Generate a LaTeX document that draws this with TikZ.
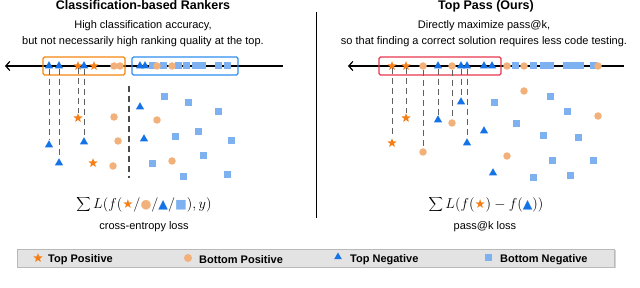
\documentclass[tikz,border=0pt]{standalone}
\usepackage{fontspec}
\usetikzlibrary{shapes.geometric,arrows.meta,shadows}
\newfontfamily\helv{Liberation Sans}
\newfontfamily\symfont{DejaVu Sans}
\definecolor{StarOrange}{HTML}{F57F17}
\definecolor{DotPeach}{HTML}{F2B07A}
\definecolor{TriBlue}{HTML}{1473E6}
\definecolor{SquareBlue}{HTML}{7DB1EF}
\definecolor{BoxOrange}{HTML}{F5870F}
\definecolor{BoxBlue}{HTML}{2E8DF0}
\definecolor{BoxRed}{HTML}{E8374F}
\newcommand{\StarMark}{\mbox{\fontsize{12.5}{12.5}\symfont\textcolor{StarOrange}{★}}}
\newcommand{\DotMark}{\mbox{\fontsize{12.5}{12.5}\symfont\textcolor{DotPeach}{●}}}
\newcommand{\TriMark}{\mbox{\fontsize{12.5}{12.5}\symfont\textcolor{TriBlue}{▲}}}
\newcommand{\SquareMark}{\mbox{\fontsize{12.5}{12.5}\symfont\textcolor{SquareBlue}{■}}}
\tikzset{
  TopPos/.style={star, star points=5, star point ratio=2.3, fill=StarOrange, inner sep=0pt, minimum size=9.5pt},
  BotPos/.style={circle, fill=DotPeach, inner sep=0pt, minimum size=7.5pt},
  TopNeg/.style={regular polygon, regular polygon sides=3, fill=TriBlue, inner sep=0pt, minimum size=9.5pt},
  BotNeg/.style={rectangle, fill=SquareBlue, inner sep=0pt, minimum size=7pt},
  DropLine/.style={gray!75!black, dash pattern=on 6pt off 4pt, line width=0.9pt},
  CutLine/.style={gray!60!black, dash pattern=on 6pt off 4pt, line width=1.5pt},
  RankBox/.style={rounded corners=1.5pt, line width=1.4pt},
  TitleText/.style={font=\helv\bfseries\fontsize{12.5}{14}\selectfont, anchor=base},
  NoteText/.style={font=\helv\fontsize{11}{13}\selectfont, anchor=base},
  LossText/.style={font=\fontsize{14}{16}\selectfont, inner sep=0pt},
  KeyText/.style={font=\helv\bfseries\fontsize{11}{13}\selectfont, anchor=west, inner sep=0pt},
}
\begin{document}
\begin{tikzpicture}[x=1pt, y=-1pt]
  \useasboundingbox (0,0) rectangle (640,288);

  % headings
  \node[TitleText] (LeftTitle) at (143,10) {Classification-based Rankers};
  \node[NoteText] (LeftNoteA) at (143,29) {High classification accuracy,};
  \node[NoteText] (LeftNoteB) at (143,45) {but not necessarily high ranking quality at the top.};
  \node[TitleText] (RightTitle) at (486,10) {Top Pass (Ours)};
  \node[NoteText] (RightNoteA) at (484,29) {Directly maximize pass@k,};
  \node[NoteText] (RightNoteB) at (484,45) {so that finding a correct solution requires less code testing.};

  \coordinate (DividerTop) at (316,12);
  \coordinate (DividerBottom) at (316,218);
  \draw[line width=0.8pt] (DividerTop)--(DividerBottom);

  % left ranking axis
  \coordinate (LeftAxisEnd) at (283,66);
  \coordinate (LeftAxisTip) at (5,66);
  \draw[line width=1.2pt, -{Straight Barb[length=4pt, width=9pt]}] (LeftAxisEnd)--(LeftAxisTip);
  \draw[RankBox, BoxOrange] (43,57) rectangle (125,75);
  \draw[RankBox, BoxBlue] (132,57) rectangle (238,75);

  \foreach \x [count=\i] in {152,163,178,186,195,202,218,227}
    \node[BotNeg] (LeftAxisSquare\i) at (\x,66) {};
  \foreach \x [count=\i] in {114,120,157,172}
    \node[BotPos] (LeftAxisDot\i) at (\x,66) {};
  \node[TopNeg] (LeftAxisTriA) at (49,66) {};
  \node[TopNeg] (LeftAxisTriB) at (59,66) {};
  \node[TopPos] (LeftAxisStarA) at (78,66) {};
  \node[TopNeg] (LeftAxisTriC) at (84,66) {};
  \node[TopPos] (LeftAxisStarB) at (94,66) {};
  \node[TopNeg] (LeftAxisTriD) at (140,66) {};
  \node[TopNeg] (LeftAxisTriE) at (145,66) {};

  % left scores
  \node[TopNeg] (LeftTriA) at (49,145) {};
  \node[TopNeg] (LeftTriB) at (59,163) {};
  \node[TopPos] (LeftStarA) at (78,118) {};
  \node[TopNeg] (LeftTriC) at (84,142) {};
  \node[TopPos] (LeftStarB) at (93,163) {};
  \node[TopNeg] (LeftTriD) at (140,107) {};
  \node[TopNeg] (LeftTriE) at (144,139) {};
  \foreach \x/\y [count=\i] in {114/117,118/141,113/166,157/120,172/161}
    \node[BotPos] (LeftDot\i) at (\x,\y) {};
  \foreach \x/\y [count=\i] in {164/97,188/103,218/112,175/137,198/132,231/141,152/164,203/156,183/177,227/175}
    \node[BotNeg] (LeftSquare\i) at (\x,\y) {};

  \draw[DropLine] (LeftAxisTriA)--(LeftTriA);
  \draw[DropLine] (LeftAxisTriB)--(LeftTriB);
  \draw[DropLine] (LeftAxisStarA)--(LeftStarA);
  \draw[DropLine] (LeftAxisTriC)--(LeftTriC);
  \coordinate (CutTop) at (129,86);
  \coordinate (CutBottom) at (129,178);
  \draw[CutLine] (CutTop)--(CutBottom);

  \node[LossText] (LeftLoss) at (144,205) {$\displaystyle\sum L(f(\StarMark/\DotMark/\TriMark/\SquareMark),y)$};
  \node[NoteText] (LeftLossName) at (144,230) {cross-entropy loss};

  % right ranking axis
  \coordinate (RightAxisEnd) at (624,66);
  \coordinate (RightAxisTip) at (348,66);
  \draw[line width=1.2pt, -{Straight Barb[length=4pt, width=9pt]}] (RightAxisEnd)--(RightAxisTip);
  \draw[RankBox, BoxRed] (379,57) rectangle (501,75);

  \foreach \x [count=\i] in {515,533,543,550,566,573,580,593}
    \node[BotNeg] (RightAxisSquare\i) at (\x,66) {};
  \foreach \x [count=\i] in {507,524,598}
    \node[BotPos] (RightAxisDot\i) at (\x,66) {};
  \node[TopPos] (RightAxisStarA) at (392,66) {};
  \node[TopPos] (RightAxisStarB) at (406,66) {};
  \node[BotPos] (RightAxisDotA) at (423,66) {};
  \node[TopNeg] (RightAxisTriA) at (438,66) {};
  \node[BotPos] (RightAxisDotB) at (452,66) {};
  \node[TopNeg] (RightAxisTriB) at (461,66) {};
  \node[TopNeg] (RightAxisTriC) at (467,66) {};
  \node[TopNeg] (RightAxisTriD) at (484,66) {};
  \node[TopNeg] (RightAxisTriE) at (492,66) {};

  % right scores
  \node[TopPos] (RightStarA) at (392,143) {};
  \node[TopPos] (RightStarB) at (406,118) {};
  \node[BotPos] (RightDotA) at (423,152) {};
  \node[TopNeg] (RightTriA) at (438,120) {};
  \node[BotPos] (RightDotB) at (452,123) {};
  \node[TopNeg] (RightTriB) at (461,102) {};
  \node[TopNeg] (RightTriC) at (467,143) {};
  \node[TopNeg] (RightTriD) at (484,131) {};
  \node[TopNeg] (RightTriE) at (493,173) {};
  \foreach \x/\y [count=\i] in {524/91,598/116,507/156}
    \node[BotPos] (RightDot\i) at (\x,\y) {};
  \foreach \x/\y [count=\i] in {494/103,550/97,567/112,516/124,543/136,578/138,552/161,593/161,533/178,570/176}
    \node[BotNeg] (RightSquare\i) at (\x,\y) {};

  \draw[DropLine] (RightAxisStarA)--(RightStarA);
  \draw[DropLine] (RightAxisStarB)--(RightStarB);
  \draw[DropLine] (RightAxisDotA)--(RightDotA);
  \draw[DropLine] (RightAxisTriA)--(RightTriA);
  \draw[DropLine] (RightAxisDotB)--(RightDotB);
  \draw[DropLine] (RightAxisTriB)--(RightTriB);
  \draw[DropLine] (RightAxisTriC)--(RightTriC);

  \node[LossText] (RightLoss) at (486,205) {$\displaystyle\sum L(f(\StarMark)-f(\TriMark))$};
  \node[NoteText] (RightLossName) at (485,230) {pass@k loss};

  % legend
  \draw[fill=gray!22, draw=gray!55, line width=0.6pt, drop shadow={shadow xshift=1.5pt, shadow yshift=-1.5pt, opacity=0.35}] (17,249) rectangle (614,267);
  \node[TopPos] (KeyStar) at (38,258) {};
  \node[KeyText] (KeyStarText) at (48,259.5) {Top Positive};
  \node[BotPos, minimum size=8pt] (KeyDot) at (188,258) {};
  \node[KeyText] (KeyDotText) at (199,259.5) {Bottom Positive};
  \node[TopNeg, minimum size=9pt] (KeyTri) at (338,257) {};
  \node[KeyText] (KeyTriText) at (350,259.5) {Top Negative};
  \node[BotNeg] (KeySquare) at (488,258) {};
  \node[KeyText] (KeySquareText) at (500,259.5) {Bottom Negative};
\end{tikzpicture}
\end{document}
